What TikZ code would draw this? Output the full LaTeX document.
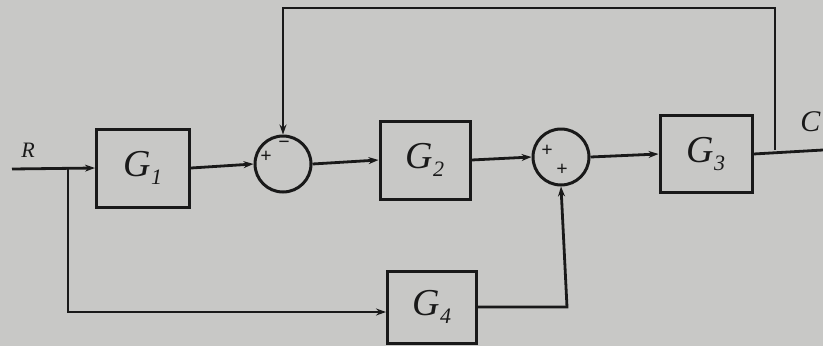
\documentclass[tikz,border=0pt]{standalone}
\usepackage{fontspec}
\setmainfont{Liberation Serif}
\usetikzlibrary{arrows.meta}
\definecolor{paper}{RGB}{200,200,198}
\definecolor{ink}{RGB}{25,25,25}
% italic block name with a lowered index
\newcommand{\blkname}[2]{\itshape #1\raisebox{-0.22em}{\fontsize{22}{24}\selectfont #2}}
\begin{document}
\begin{tikzpicture}[x=1pt,y=-1pt,
  line width=3pt, draw=ink,
  blk/.style={draw=ink, line width=3pt, minimum width=#1, minimum height=78pt, inner sep=0pt,
              font=\fontsize{38}{40}\selectfont, text=ink},
  blk/.default=92pt,
  sumj/.style={draw=ink, circle, line width=3pt, minimum size=56pt, inner sep=0pt},
  sig/.style={font=\fontsize{20}{22}\selectfont\bfseries, inner sep=0pt, text=ink},
  arr/.style={-{Stealth[length=10pt,width=7pt]}, draw=ink, line width=2.8pt},
  wire/.style={draw=ink, line width=2.8pt}]
% page and background
\fill[paper] (0,0) rectangle (823,346);
\useasboundingbox (0,0) rectangle (823,346);

% blocks
\node[blk=93pt] (G1) at (143,168) {\blkname{G}{1}};
\node[blk=90pt] (G2) at (425,160) {\blkname{G}{2}};
\node[blk=92pt, minimum height=77pt] (G3) at (706,154) {\blkname{G}{3}};
\node[blk=89pt, minimum height=72pt] (G4) at (432,307) {\blkname{G}{4}};

% summing junctions
\node[sumj] (S1) at (283,164) {};
\node[sumj] (S2) at (561,157) {};
\node[sig] at (266,157) {+};
\node[sig] at (284,145) {\char"2212};
\node[sig] at (547,151) {+};
\node[sig] at (562,170) {+};

% signal labels
\coordinate (in) at (12,169);
\coordinate (br) at (68,169);
\coordinate (out) at (823,150);
\coordinate (tap) at (775,150);
\node[font=\fontsize{22}{24}\selectfont\itshape, text=ink] (R) at (28,150) {R};
\node[font=\fontsize{30}{32}\selectfont\itshape, text=ink, anchor=east, inner sep=1pt] (C) at (823,122) {C};

% forward path
\draw[arr] (in) -- (G1.west);
\draw[arr] (G1.east) -- (S1.west);
\draw[arr] (S1.east) -- (G2.west);
\draw[arr] (G2.east) -- (S2.west);
\draw[arr] (S2.east) -- (G3.west);
\draw[wire] (G3.east) -- (out);

% feedforward branch through G4
\draw[arr] (br) -- (68,312) -- (G4.west |- 0,312);
\draw[arr] (G4.east) -- (567,307) -- (S2.south);

% feedback loop
\draw[arr] (tap) -- (775,8) -- (283,8) -- (S1.north);
\end{tikzpicture}
\end{document}
